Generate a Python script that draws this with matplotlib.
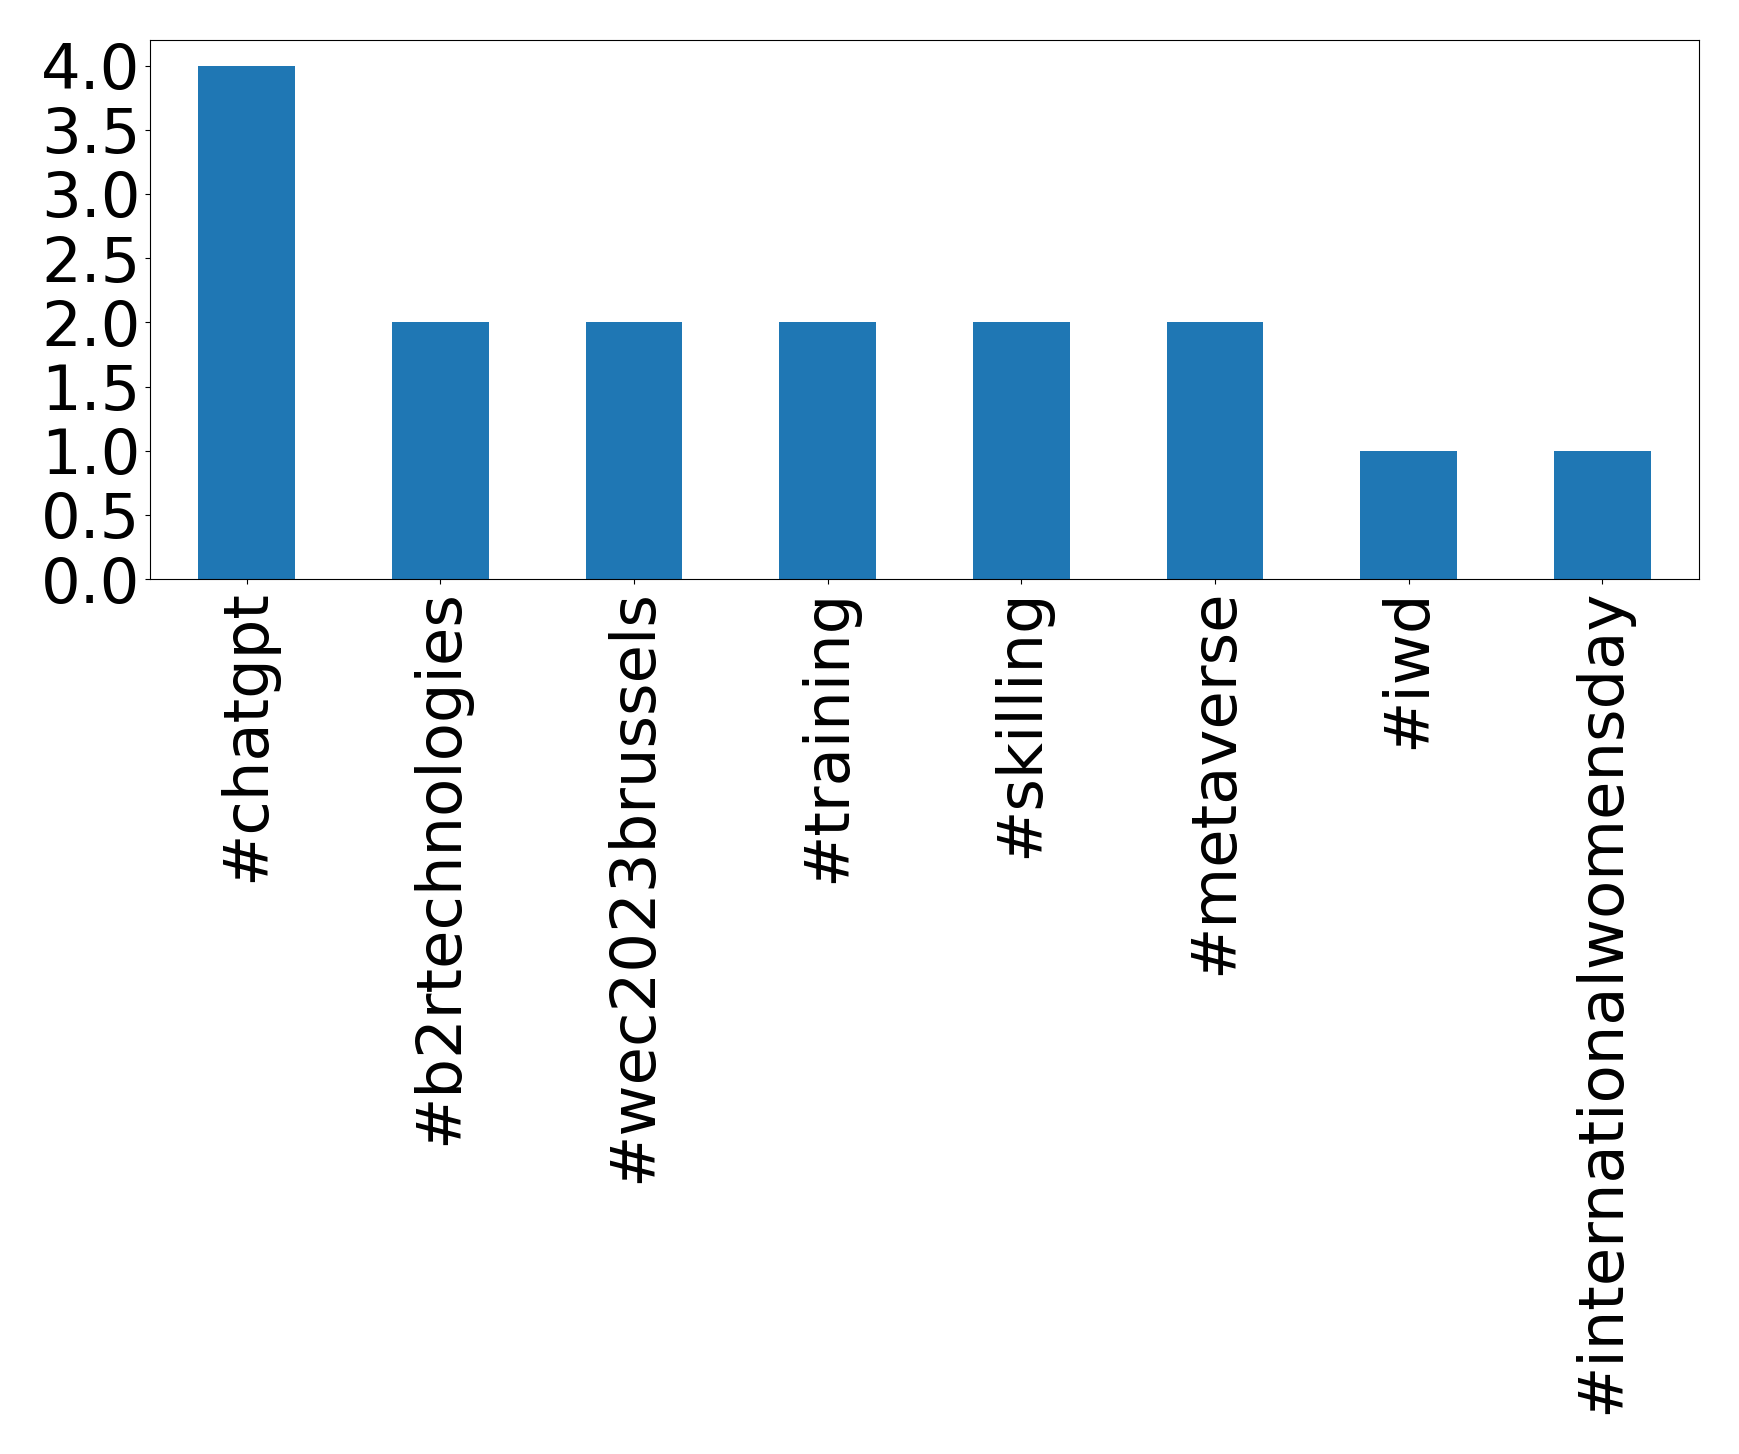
import numpy as np
import matplotlib
matplotlib.use("Agg")
import matplotlib.pyplot as plt

hashtags = ["#chatgpt", "#b2rtechnologies", "#wec2023brussels", "#training",
            "#skilling", "#metaverse", "#iwd", "#internationalwomensday"]
counts = [4, 2, 2, 2, 2, 2, 1, 1]

fig = plt.figure(figsize=(17.39, 14.54), dpi=100)
ax = fig.add_axes([150/1739, 1 - 579/1454, (1699 - 150)/1739, (579 - 40)/1454])

x = np.arange(len(hashtags))
ax.bar(x, counts, width=0.5, color="#1f77b4")
ax.set_xlim(-0.5, len(hashtags) - 0.5)
ax.set_ylim(0, 4.2)
ax.set_yticks(np.arange(0, 4.01, 0.5))
ax.set_xticks(x)
ax.set_xticklabels(hashtags, rotation=90, fontsize=45)
ax.tick_params(axis="y", labelsize=45)

fig.savefig("out.png", dpi=100)
